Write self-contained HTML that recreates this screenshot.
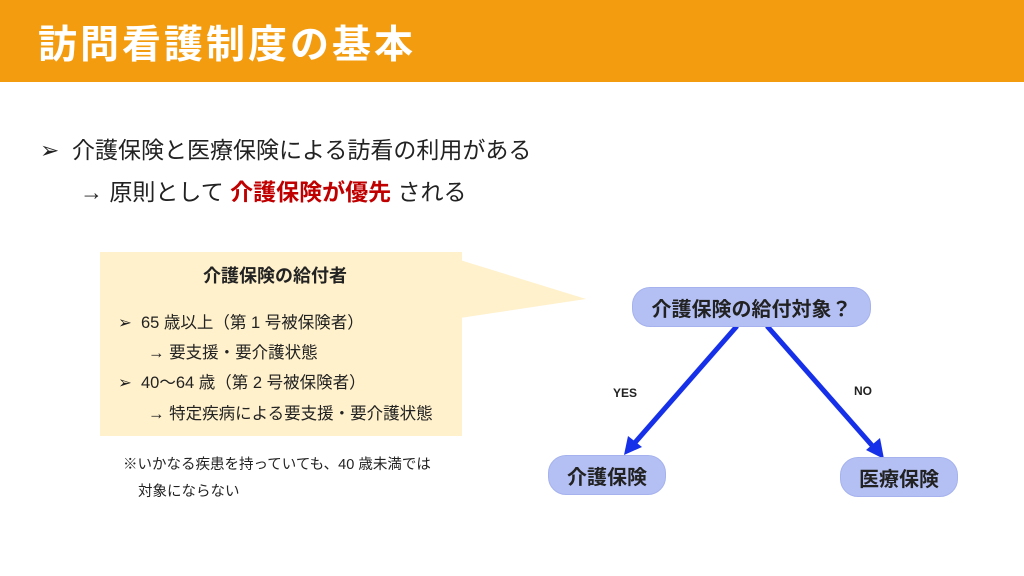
<!DOCTYPE html>
<html><head><meta charset="utf-8"><style>
body{margin:0;width:1024px;height:576px;background:#fff;position:relative;overflow:hidden;font-family:"Liberation Sans","Noto Sans CJK JP",sans-serif;}
.hdr{position:absolute;left:0;top:0;width:1024px;height:82px;background:#F39C0F;}
.hdr span{position:absolute;left:38px;top:14px;color:#fff;font-size:39px;font-weight:bold;letter-spacing:3px}
.t{position:absolute;white-space:nowrap;color:#222}
.box{position:absolute;left:100px;top:252px;width:362px;height:184px;background:#FFF1CC}
.node{position:absolute;background:#B4C0F4;border:1px solid #a5b2ee;border-radius:18px;font-weight:bold;font-size:20px;color:#222;display:flex;align-items:center;justify-content:center}
</style></head><body>
<div class="hdr"><span>訪問看護制度の基本</span></div>
<div class="t" style="left:40px;top:131px;font-size:23px">➢&nbsp; 介護保険と医療保険による訪看の利用がある</div>
<div class="t" style="left:80px;top:173px;font-size:23px">→ 原則として <b style="color:#C00000">介護保険が優先</b> される</div>
<svg style="position:absolute;left:0;top:0" width="1024" height="576">
<polygon points="460,260 586,299 460,318" fill="#FFF1CC"/>
<line x1="737" y1="326" x2="632" y2="446" stroke="#1530E8" stroke-width="5"/>
<polygon points="624,455 628,436 642,447" fill="#1530E8"/>
<line x1="767" y1="326" x2="876" y2="450" stroke="#1530E8" stroke-width="5"/>
<polygon points="884,459 866,450 880,438" fill="#1530E8"/>
</svg>
<div class="box"></div>
<div class="t" style="left:203px;top:262px;font-size:18px;font-weight:bold">介護保険の給付者</div>
<div class="t" style="left:118px;top:309px;font-size:16.5px">➢&nbsp; 65 歳以上（第 1 号被保険者）</div>
<div class="t" style="left:148px;top:339px;font-size:16.5px">→ 要支援・要介護状態</div>
<div class="t" style="left:118px;top:369px;font-size:16.5px">➢&nbsp; 40～64 歳（第 2 号被保険者）</div>
<div class="t" style="left:148px;top:400px;font-size:16.5px">→ 特定疾病による要支援・要介護状態</div>
<div class="t" style="left:123px;top:453px;font-size:14.5px">※いかなる疾患を持っていても、40 歳未満では</div>
<div class="t" style="left:138px;top:480px;font-size:14.5px">対象にならない</div>
<div class="node" style="left:632px;top:287px;width:237px;height:38px">介護保険の給付対象？</div>
<div class="node" style="left:548px;top:455px;width:116px;height:38px">介護保険</div>
<div class="node" style="left:840px;top:457px;width:116px;height:38px">医療保険</div>
<div class="t" style="left:613px;top:386px;font-size:12px;font-weight:bold">YES</div>
<div class="t" style="left:854px;top:384px;font-size:12px;font-weight:bold">NO</div>
</body></html>
